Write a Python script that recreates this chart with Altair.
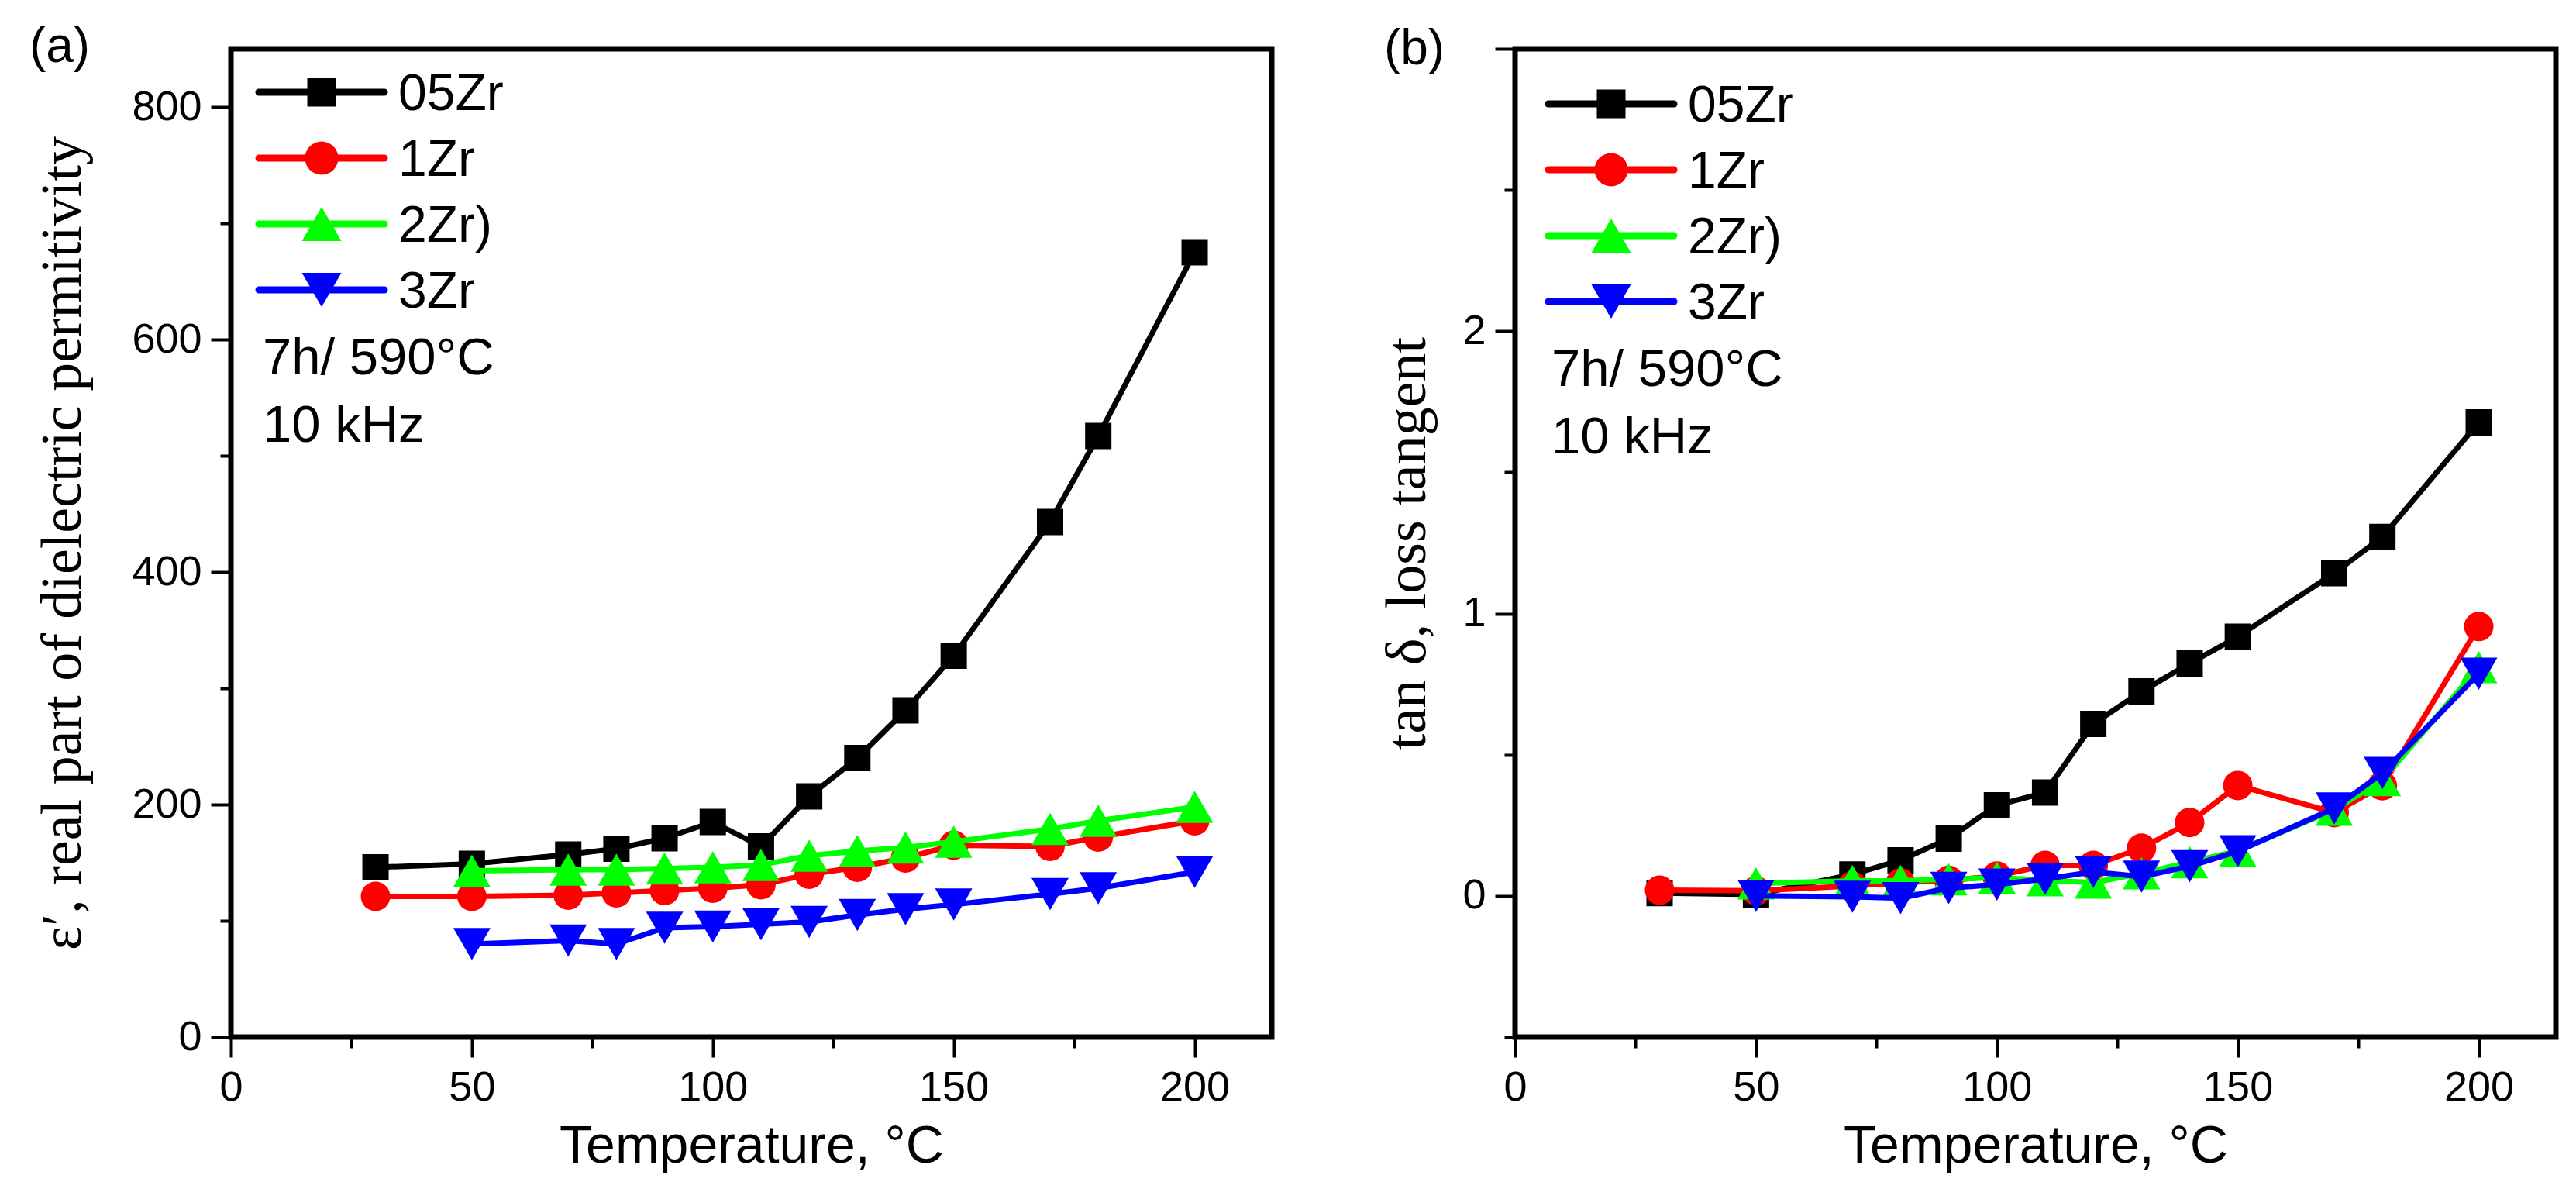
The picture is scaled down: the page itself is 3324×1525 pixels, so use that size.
import altair as alt
import pandas as pd

# ---------------- data ----------------
SERIES = ["05Zr", "1Zr", "2Zr)", "3Zr"]
COLORS = ["#000000", "#ff0000", "#00ff00", "#0000ff"]
SHAPES = ["square", "circle", "triangle-up", "triangle-down"]

T_ALL = [30, 50, 70, 80, 90, 100, 110, 120, 130, 140, 150, 170, 180, 200]
T_50 = [50, 70, 80, 90, 100, 110, 120, 130, 140, 150, 170, 180, 200]

# (a) real part of dielectric permittivity
EPS_05 = [146, 149, 157, 162, 171, 185, 164, 207, 240, 281, 328, 443, 517, 675]
EPS_1 = [121, 121, 122, 124, 126, 128, 131, 140, 146, 154, 165, 164, 172, 186]
EPS_2 = [143, 144, 144, 145, 146, 148, 156, 160, 163, 168, 179, 186, 198]
EPS_3 = [80, 83, 80, 94, 95, 97, 99, 105, 110, 114, 123, 128, 142]

# (b) loss tangent
TAN_05 = [0.01, 0.005, 0.076, 0.126, 0.203, 0.321, 0.366, 0.609, 0.724, 0.823, 0.918, 1.143, 1.271, 1.677]
TAN_1 = [0.02, 0.018, 0.035, 0.046, 0.055, 0.07, 0.108, 0.108, 0.169, 0.26, 0.391, 0.295, 0.39, 0.954]
TAN_2 = [0.044, 0.053, 0.053, 0.059, 0.065, 0.055, 0.047, 0.08, 0.119, 0.16, 0.305, 0.41, 0.81]
TAN_3 = [0.0, -0.003, -0.008, 0.028, 0.04, 0.06, 0.085, 0.068, 0.105, 0.158, 0.31, 0.435, 0.787]

X_TICKS = [0, 25, 50, 75, 100, 125, 150, 175, 200]
YA_TICKS = [0, 100, 200, 300, 400, 500, 600, 700, 800]
YB_TICKS = [-0.5, 0, 0.5, 1, 1.5, 2, 2.5, 3]

NOTE_1 = "7h/ 590°C"
NOTE_2 = "10 kHz"

# ---------------- styling ----------------
W, H = 1343, 1275
SANS = "Liberation Sans"
SERIF = "Liberation Serif"
DATA_SIZES = [1156, 1444, 2304, 2304]
LEG_SIZES = [1369, 1849, 2601, 2601]
LINE_W = 7


def make_panel(temps, values, ydomain, yticks, ylabel_expr, ymajor_test, yformat,
               ytitle, ytitle_pad, tag, tag_x, tag_y, leg_y0, leg_x0, note_x, note_y0):
    xs = alt.Scale(domain=[0, 216], nice=False, zero=False)
    ys = alt.Scale(domain=ydomain, nice=False, zero=False)
    xaxis = alt.Axis(
        values=X_TICKS, format="d", labelExpr="datum.value % 50 === 0 ? datum.label : ''",
        tickSize={"condition": {"test": "datum.value % 50 === 0", "value": 26}, "value": 14},
        labelPadding=12, labelOverlap=False, labelFlush=False, labelBound=False,
        title="Temperature, °C", titleFont=SANS, titleFontSize=68, titleFontWeight="normal",
        titlePadding=15, domain=False, grid=False,
    )
    yaxis = alt.Axis(
        values=yticks, format=yformat, labelExpr=ylabel_expr,
        tickSize={"condition": {"test": ymajor_test, "value": 26}, "value": 14},
        labelPadding=12, labelOverlap=False, labelFlush=False, labelBound=False,
        title=ytitle, titleFont=SERIF, titleFontSize=74, titleFontWeight="normal",
        titlePadding=ytitle_pad, domain=False, grid=False,
    )
    layers = []
    for i, s in enumerate(SERIES):
        df = pd.DataFrame({"T": temps[i], "v": values[i], "series": s})
        enc = dict(
            x=alt.X("T:Q", scale=xs, axis=xaxis),
            y=alt.Y("v:Q", scale=ys, axis=yaxis),
        )
        layers.append(
            alt.Chart(df).mark_line(color=COLORS[i], strokeWidth=LINE_W, strokeJoin="round").encode(**enc)
        )
        layers.append(
            alt.Chart(df).mark_point(shape=SHAPES[i], filled=True, size=DATA_SIZES[i],
                                     color=COLORS[i], opacity=1, strokeWidth=0).encode(**enc)
        )
    # legend inside the plot
    for i, s in enumerate(SERIES):
        ry = leg_y0 + 85 * i
        ldf = pd.DataFrame({"name": [s]})
        layers.append(
            alt.Chart(ldf).mark_rule(color=COLORS[i], strokeWidth=9, strokeCap="round").encode(
                x=alt.value(leg_x0), x2=alt.value(leg_x0 + 162), y=alt.value(ry)
            )
        )
        layers.append(
            alt.Chart(ldf).mark_point(shape=SHAPES[i], filled=True, size=LEG_SIZES[i],
                                      color=COLORS[i], opacity=1, strokeWidth=0).encode(
                x=alt.value(leg_x0 + 81), y=alt.value(ry)
            )
        )
        layers.append(
            alt.Chart(ldf).mark_text(font=SANS, fontSize=66, align="left", baseline="alphabetic",
                                     color="black").encode(
                text="name:N", x=alt.value(leg_x0 + 180), y=alt.value(ry + 23)
            )
        )
    ndf = pd.DataFrame({"note": [NOTE_1, NOTE_2], "k": [0, 1]})
    for k in range(2):
        layers.append(
            alt.Chart(ndf[ndf.k == k]).mark_text(font=SANS, fontSize=67, align="left",
                                                 baseline="alphabetic", color="black").encode(
                text="note:N", x=alt.value(note_x), y=alt.value(note_y0 + 87 * k)
            )
        )
    tdf = pd.DataFrame({"tag": [tag]})
    layers.append(
        alt.Chart(tdf).mark_text(font=SANS, fontSize=64, align="center", baseline="alphabetic",
                                 color="black").encode(
            text="tag:N", x=alt.value(tag_x), y=alt.value(tag_y)
        )
    )
    return alt.layer(*layers).properties(width=W, height=H)


left = make_panel(
    [T_ALL, T_ALL, T_50, T_50], [EPS_05, EPS_1, EPS_2, EPS_3],
    [0, 850], YA_TICKS, "datum.value % 200 === 0 ? datum.label : ''",
    "datum.value % 200 === 0", "d",
    "ε′, real part of dielectric permitivity", 50,
    "(a)", -221, 17, 56, 36, 41, 420,
)
right = make_panel(
    [T_ALL, T_ALL, T_50, T_50], [TAN_05, TAN_1, TAN_2, TAN_3],
    [-0.5, 3], YB_TICKS,
    "datum.value === 0 || datum.value === 1 || datum.value === 2 ? datum.label : ''",
    "datum.value % 1 === 0", ".0f",
    "tan δ, loss tangent", 32,
    "(b)", -130, 20, 71, 43, 47, 435,
)

chart = (
    alt.hconcat(left, right, spacing=131)
    .properties(padding={"left": 26, "top": 17, "right": 10, "bottom": 10}, background="white")
    .configure_view(stroke="black", strokeWidth=7, fill="white")
    .configure_axis(
        tickColor="black", tickWidth=4, labelColor="black", titleColor="black",
        labelFont=SANS, labelFontSize=54,
    )
)

chart.save("out.html", embed_options={"renderer": "svg", "actions": False})
